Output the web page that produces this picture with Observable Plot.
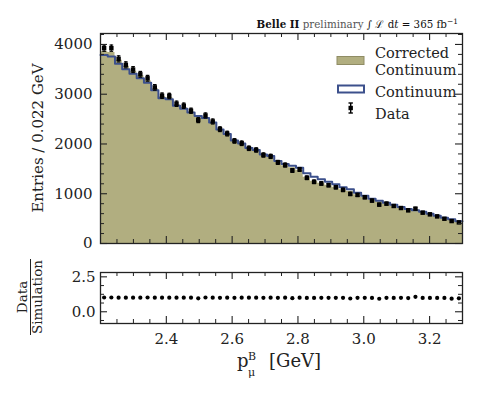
<!DOCTYPE html>
<html>
<head>
<meta charset="utf-8">
<script src="https://cdn.jsdelivr.net/npm/d3@7"></script>
<script src="https://cdn.jsdelivr.net/npm/@observablehq/plot@0.6"></script>
<style>
  html, body { margin: 0; padding: 0; background: white; }
  #wrap { position: relative; width: 478px; height: 399px; font-family: "DejaVu Serif", serif; overflow: hidden; }
  #main, #ratio { position: absolute; left: 0; }
  #main { top: 0; }
  #ratio { top: 250px; }
  #overlay { position: absolute; left: 0; top: 0; pointer-events: none; }
  svg text { font-family: "DejaVu Serif", serif; }
</style>
</head>
<body>
<div id="wrap">
  <div id="main"></div>
  <div id="ratio"></div>
  <svg id="overlay" width="478" height="399" font-family="DejaVu Serif">
    <text x="458" y="28" text-anchor="end" font-size="10.3"><tspan font-weight="bold" fill="#111">Belle II</tspan><tspan fill="#555"> preliminary </tspan><tspan fill="#111">∫ ℒ d</tspan><tspan fill="#111" font-style="italic">t</tspan><tspan fill="#111"> = 365 fb</tspan><tspan fill="#111" font-size="7.5" dy="-4">−1</tspan></text>
    <text transform="translate(38,138) rotate(-90)" text-anchor="middle" dominant-baseline="central" font-size="15" fill="#222">Entries / 0.022 GeV</text>
    <g transform="translate(30.5,297) rotate(-90)" fill="#222">
      <text x="0" y="-4" text-anchor="middle" font-size="13.5">Data</text>
      <line x1="-38" x2="38" y1="0" y2="0" stroke="#222" stroke-width="1"></line>
      <text x="0" y="11" text-anchor="middle" font-size="13.5">Simulation</text>
    </g>
    <g fill="#222">
      <text x="237" y="367" font-size="18">p</text>
      <text x="248" y="360" font-size="11">B</text>
      <text x="248" y="375.5" font-size="11">μ</text>
      <text x="269" y="367" font-size="18">[GeV]</text>
    </g>
    <g id="legend" font-size="14.5" fill="#222">
      <rect x="337" y="56.5" width="27" height="8" fill="#b1ae80" stroke="#8f8c64" stroke-width="1"></rect>
      <text x="375" y="57.5">Corrected</text>
      <text x="375" y="74.5">Continuum</text>
      <rect x="338" y="85.5" width="26" height="7" fill="white" stroke="#3c508c" stroke-width="2"></rect>
      <text x="375" y="97">Continuum</text>
      <line x1="350.7" x2="350.7" y1="103" y2="113" stroke="black" stroke-width="1.4"></line>
      <line x1="348.5" x2="352.9" y1="103" y2="103" stroke="black" stroke-width="1.4"></line>
      <line x1="348.5" x2="352.9" y1="113" y2="113" stroke="black" stroke-width="1.4"></line>
      <rect x="348.5" y="105.8" width="4.4" height="4.4" fill="black"></rect>
      <text x="375" y="118.5">Data</text>
    </g>
  </svg>
</div>
<script>
// ---- data ----
const binLow = 2.2;
const binWidth = 0.022;
const dataCounts = [3925, 3925, 3710, 3590, 3495, 3400, 3320, 3137, 2970, 2964,
                    2808, 2768, 2667, 2479, 2572, 2451, 2297, 2208, 2061, 2014,
                    1913, 1879, 1778, 1751, 1630, 1576, 1468, 1488, 1320, 1239,
                    1206, 1172, 1131, 1077, 996, 976, 929, 862, 781, 801,
                    754, 713, 667, 700, 620, 586, 545, 498, 451, 424];
const dataErrors = [63, 63, 61, 60, 59, 58, 58, 56, 54, 54,
                    53, 53, 52, 50, 51, 50, 48, 47, 45, 45,
                    44, 43, 42, 42, 40, 40, 38, 39, 36, 35,
                    35, 34, 34, 33, 32, 31, 30, 29, 28, 28,
                    27, 27, 26, 26, 25, 24, 23, 22, 21, 21];
const correctedContinuum = [3860, 3840, 3680, 3560, 3460, 3370, 3270, 3110, 2950, 2930,
                    2790, 2730, 2640, 2570, 2530, 2430, 2290, 2190, 2060, 2000,
                    1900, 1860, 1770, 1730, 1630, 1560, 1520, 1470, 1330, 1250,
                    1210, 1170, 1130, 1080, 1050, 980, 930, 870, 840, 800,
                    760, 715, 680, 655, 625, 590, 550, 505, 480, 440];
const continuum = [3790, 3760, 3610, 3500, 3410, 3320, 3230, 3080, 2920, 2900,
                    2770, 2710, 2630, 2560, 2520, 2430, 2290, 2200, 2070, 2010,
                    1920, 1880, 1790, 1760, 1660, 1600, 1560, 1520, 1410, 1340,
                    1290, 1240, 1190, 1130, 1090, 1020, 960, 900, 860, 820,
                    780, 735, 695, 670, 640, 600, 560, 515, 485, 445];
const ratioValues = [1.02, 1.02, 1.01, 1.01, 1.01, 1.01, 1.02, 1.01, 1.01, 1.01,
                    1.01, 1.01, 1.01, 0.96, 1.02, 1.01, 1.00, 1.01, 1.00, 1.01,
                    1.01, 1.01, 1.00, 1.01, 1.00, 1.01, 0.97, 1.01, 0.99, 0.99,
                    1.00, 1.00, 1.00, 1.00, 0.95, 1.00, 1.00, 0.99, 0.93, 1.00,
                    0.99, 1.00, 0.98, 1.07, 0.99, 0.99, 0.99, 0.99, 0.94, 0.96];

const xMajorTicks = [2.4, 2.6, 2.8, 3.0, 3.2];
const xMinorTicks = [2.25, 2.3, 2.35, 2.45, 2.5, 2.55, 2.65, 2.7, 2.75, 2.85, 2.9, 2.95, 3.05, 3.1, 3.15, 3.25];
const yMajorTicks = [0, 1000, 2000, 3000, 4000];
const yMinorTicks = [200, 400, 600, 800, 1200, 1400, 1600, 1800, 2200, 2400, 2600, 2800, 3200, 3400, 3600, 3800, 4200];
const rMajorTicks = [0, 2.5];
const rMinorTicks = [-0.625, 0.625, 1.25, 1.875];

const olive = "#b1ae80";
const blue = "#3c508c";
const ink = "#222";

// ---- derived tables ----
const nBins = dataCounts.length;
const points = dataCounts.map((v, i) => ({
  x: binLow + (i + 0.5) * binWidth, v, e: dataErrors[i], r: ratioValues[i]
}));
const steps = correctedContinuum.map((c, i) => ({x: binLow + i * binWidth, c, k: continuum[i]}))
  .concat([{x: binLow + nBins * binWidth, c: correctedContinuum[nBins - 1], k: continuum[nBins - 1]}]);
const xDomain = [binLow, binLow + nBins * binWidth];
const capHalf = 0.0055;

const W = 478, mL = 100, mR = 16;
const innerW = W - mL - mR;

// ---- main panel ----
const mainH = 250, mainTop = 33, mainBottom = 7;
const mainInnerH = mainH - mainTop - mainBottom;
const majorLen = 7, minorLen = 4;

const mainPlot = Plot.plot({
  width: W, height: mainH,
  marginTop: mainTop, marginBottom: mainBottom, marginLeft: mL, marginRight: mR,
  x: {domain: xDomain, axis: null},
  y: {domain: [0, 4220], axis: null},
  style: {background: "transparent", overflow: "visible", fontFamily: "DejaVu Serif"},
  marks: [
    Plot.areaY(steps, {x: "x", y: "c", curve: "step-after", fill: olive}),
    Plot.lineY(steps, {x: "x", y: "k", curve: "step-after", stroke: blue, strokeWidth: 2}),
    Plot.ruleX(points, {x: "x", y1: d => d.v - d.e, y2: d => d.v + d.e, stroke: "black", strokeWidth: 1.3}),
    Plot.link(points, {x1: d => d.x - capHalf, x2: d => d.x + capHalf, y1: d => d.v + d.e, y2: d => d.v + d.e, stroke: "black", strokeWidth: 1.2}),
    Plot.link(points, {x1: d => d.x - capHalf, x2: d => d.x + capHalf, y1: d => d.v - d.e, y2: d => d.v - d.e, stroke: "black", strokeWidth: 1.2}),
    Plot.dot(points, {x: "x", y: "v", symbol: "square", r: 2.5, fill: "black"}),
    // inward ticks on all four sides
    Plot.tickX(xMajorTicks, {x: d => d, insetTop: mainInnerH - majorLen, stroke: ink, strokeWidth: 1.1}),
    Plot.tickX(xMinorTicks, {x: d => d, insetTop: mainInnerH - minorLen, stroke: ink, strokeWidth: 1}),
    Plot.tickX(xMajorTicks, {x: d => d, insetBottom: mainInnerH - majorLen, stroke: ink, strokeWidth: 1.1}),
    Plot.tickX(xMinorTicks, {x: d => d, insetBottom: mainInnerH - minorLen, stroke: ink, strokeWidth: 1}),
    Plot.tickY(yMajorTicks, {y: d => d, insetRight: innerW - majorLen, stroke: ink, strokeWidth: 1.1}),
    Plot.tickY(yMinorTicks, {y: d => d, insetRight: innerW - minorLen, stroke: ink, strokeWidth: 1}),
    Plot.tickY(yMajorTicks, {y: d => d, insetLeft: innerW - majorLen, stroke: ink, strokeWidth: 1.1}),
    Plot.tickY(yMinorTicks, {y: d => d, insetLeft: innerW - minorLen, stroke: ink, strokeWidth: 1}),
    Plot.text(yMajorTicks, {y: d => d, text: d => String(d), frameAnchor: "left", textAnchor: "end", dx: -8, fontSize: 15, fill: ink, fontFamily: "DejaVu Serif"}),
    Plot.frame({stroke: ink, strokeWidth: 1.3})
  ]
});
document.getElementById("main").append(mainPlot);

// ---- ratio panel ----
const rH = 149, rTop = 22, rBottom = 76;
const rInnerH = rH - rTop - rBottom;
const ratioPlot = Plot.plot({
  width: W, height: rH,
  marginTop: rTop, marginBottom: rBottom, marginLeft: mL, marginRight: mR,
  x: {domain: xDomain, axis: null},
  y: {domain: [-0.84, 2.81], axis: null},
  style: {background: "transparent", overflow: "visible", fontFamily: "DejaVu Serif"},
  marks: [
    Plot.dot(points, {x: "x", y: "r", r: 2.1, fill: "black"}),
    Plot.tickX(xMajorTicks, {x: d => d, insetTop: rInnerH - majorLen, stroke: ink, strokeWidth: 1.1}),
    Plot.tickX(xMinorTicks, {x: d => d, insetTop: rInnerH - minorLen, stroke: ink, strokeWidth: 1}),
    Plot.tickX(xMajorTicks, {x: d => d, insetBottom: rInnerH - majorLen, stroke: ink, strokeWidth: 1.1}),
    Plot.tickX(xMinorTicks, {x: d => d, insetBottom: rInnerH - minorLen, stroke: ink, strokeWidth: 1}),
    Plot.tickY(rMajorTicks, {y: d => d, insetRight: innerW - majorLen, stroke: ink, strokeWidth: 1.1}),
    Plot.tickY(rMinorTicks, {y: d => d, insetRight: innerW - minorLen, stroke: ink, strokeWidth: 1}),
    Plot.tickY(rMajorTicks, {y: d => d, insetLeft: innerW - majorLen, stroke: ink, strokeWidth: 1.1}),
    Plot.tickY(rMinorTicks, {y: d => d, insetLeft: innerW - minorLen, stroke: ink, strokeWidth: 1}),
    Plot.text(rMajorTicks, {y: d => d, text: d => d.toFixed(1), frameAnchor: "left", textAnchor: "end", dx: -5, fontSize: 15, fill: ink, fontFamily: "DejaVu Serif"}),
    Plot.text(xMajorTicks, {x: d => d, text: d => d.toFixed(1), frameAnchor: "bottom", lineAnchor: "top", dy: 10, fontSize: 15, fill: ink, fontFamily: "DejaVu Serif"}),
    Plot.frame({stroke: ink, strokeWidth: 1.3})
  ]
});
document.getElementById("ratio").append(ratioPlot);
</script>
</body>
</html>
